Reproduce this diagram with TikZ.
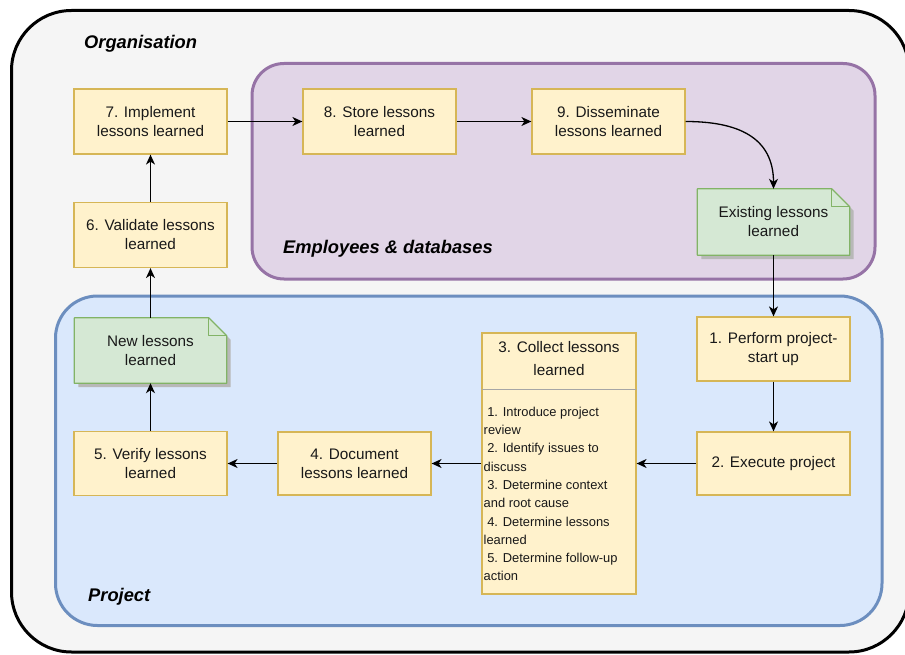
\documentclass[tikz,border=0pt]{standalone}
\usepackage{fontspec}
\setmainfont{Liberation Sans}
\usetikzlibrary{arrows.meta,calc}

\definecolor{orgfill}{HTML}{F5F5F5}
\definecolor{empfill}{HTML}{E1D5E7}
\definecolor{empline}{HTML}{9673A6}
\definecolor{prjfill}{HTML}{DAE8FC}
\definecolor{prjline}{HTML}{6C8EBF}
\definecolor{stepfill}{HTML}{FFF2CC}
\definecolor{stepline}{HTML}{D6B656}
\definecolor{notefill}{HTML}{D5E8D4}
\definecolor{noteline}{HTML}{82B366}

\pgfdeclarelayer{back}
\pgfdeclarelayer{notes}
\pgfsetlayers{back,notes,main}

\tikzset{
  boxtext/.style={font=\fontsize{15.3}{19}\selectfont, align=center, text=black!90},
  stepbox/.style={boxtext, draw=stepline, fill=stepfill, line width=1.2pt,
    minimum width=153pt, minimum height=65pt, inner sep=0pt},
  notebox/.style={boxtext, minimum width=152pt, minimum height=66pt, inner sep=0pt},
  grouptitle/.style={font=\fontsize{18.3}{22}\selectfont\bfseries\itshape, anchor=west, inner sep=0pt},
  flow/.style={line width=1.3pt, -{Stealth[length=10pt,width=9pt,inset=3pt]}},
}

% folded-corner note drawn behind a named text node
\newcommand{\foldednote}[1]{%
  \begin{pgfonlayer}{notes}
    \fill[black!28] ($(#1.north west)+(4,4)$) -- ($(#1.north east)+(-14,4)$)
      -- ($(#1.north east)+(4,22)$) -- ($(#1.south east)+(4,4)$)
      -- ($(#1.south west)+(4,4)$) -- cycle;
    \filldraw[fill=notefill, draw=noteline, line width=1.2pt, line join=round]
      (#1.north west) -- ($(#1.north east)+(-18,0)$) -- ($(#1.north east)+(0,18)$)
      -- (#1.south east) -- (#1.south west) -- cycle;
    \draw[noteline, line width=1.2pt, line join=round]
      ($(#1.north east)+(-18,0)$) -- ($(#1.north east)+(-18,18)$) -- ($(#1.north east)+(0,18)$);
  \end{pgfonlayer}}

\begin{document}
\begin{tikzpicture}[x=1pt, y=-1pt]
\useasboundingbox (0,0) rectangle (905,655);
\clip (0,0) rectangle (905,655);

% group containers
\begin{pgfonlayer}{back}
  \filldraw[fill=orgfill, draw=black, line width=3pt, rounded corners=60pt]
    (11.5,10.5) rectangle (909,652);
  \filldraw[fill=empfill, draw=empline, line width=3pt, rounded corners=32pt]
    (252,63.5) rectangle (875,279);
  \filldraw[fill=prjfill, draw=prjline, line width=3pt, rounded corners=42pt]
    (55.5,296) rectangle (882,625.5);
\end{pgfonlayer}

\node[grouptitle] (orgtitle) at (84,44) {Organisation};
\node[grouptitle] (emptitle) at (283,249) {Employees \& databases};
\node[grouptitle] (prjtitle) at (88,597) {Project};

% steps
\node[stepbox] (s7) at (150.5,121.5) {7. Implement\\lessons learned};
\node[stepbox] (s8) at (379.5,121.5) {8. Store lessons\\learned};
\node[stepbox] (s9) at (608.5,121.5) {9. Disseminate\\lessons learned};
\node[stepbox] (s6) at (150.5,235) {6. Validate lessons\\learned};
\node[stepbox, minimum height=64pt] (s1) at (773.5,349) {1. Perform project-\\start up};
\node[stepbox, minimum height=63pt] (s2) at (773.5,463.5) {2. Execute project};
\node[stepbox, minimum height=63pt] (s4) at (354.5,463.5) {4. Document\\lessons learned};
\node[stepbox, minimum height=64pt] (s5) at (150.5,463.5) {5. Verify lessons\\learned};

% notes
\node[notebox] (existing) at (773.5,222) {Existing lessons\\learned};
\foldednote{existing}
\node[notebox, minimum height=65pt] (newlessons) at (150.5,350.5) {New lessons\\learned};
\foldednote{newlessons}

% step 3 with its list of activities
\node[draw=stepline, fill=stepfill, line width=1.2pt, minimum width=154pt,
  minimum height=261pt, inner sep=0pt] (s3) at (559,463.5) {};
\draw[black!35, line width=1pt] ($(s3.north west)+(0.6,57)$) -- ($(s3.north east)+(-0.6,57)$);
\node[font=\fontsize{15.3}{23}\selectfont, align=center, text=black!90] (s3head)
  at (559,358.5) {3. Collect lessons\\learned};
\node[font=\fontsize{12.9}{18.3}\selectfont, align=left, anchor=west, inner sep=0pt,
  text=black!90] (s3list) at (483.5,494)
  {\hspace*{3.6pt}1. Introduce project\\review\\
   \hspace*{3.6pt}2. Identify issues to\\discuss\\
   \hspace*{3.6pt}3. Determine context\\and root cause\\
   \hspace*{3.6pt}4. Determine lessons\\learned\\
   \hspace*{3.6pt}5. Determine follow-up\\action};

% connectors
\draw[flow] (s7) -- (s8);
\draw[flow] (s8) -- (s9);
\draw[flow] (s9.east) to[out=0, in=90, looseness=1.2] (existing.north);
\draw[flow] (existing) -- (s1);
\draw[flow] (s1) -- (s2);
\draw[flow] (s2) -- (s3);
\draw[flow] (s3) -- (s4);
\draw[flow] (s4) -- (s5);
\draw[flow] (s5) -- (newlessons);
\draw[flow] (newlessons) -- (s6);
\draw[flow] (s6) -- (s7);
\end{tikzpicture}
\end{document}
